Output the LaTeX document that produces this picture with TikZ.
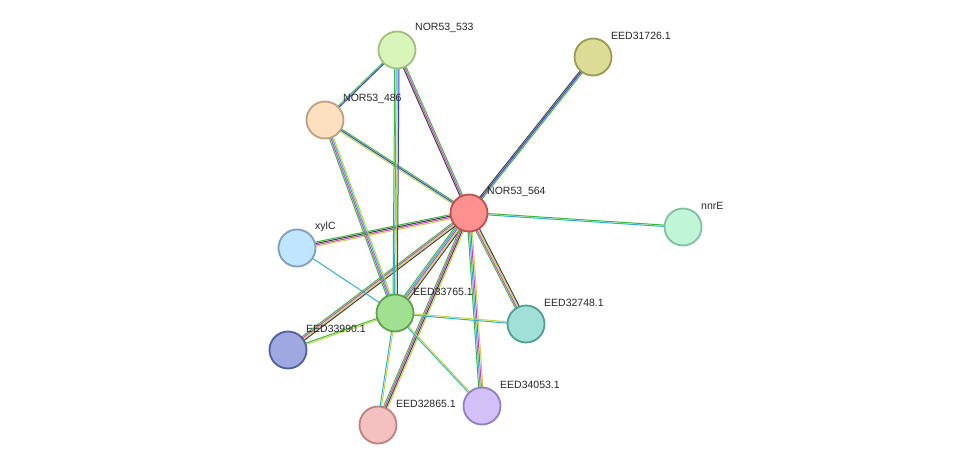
\documentclass[tikz,border=0pt]{standalone}
\usepackage{fontspec}
\setmainfont{Liberation Sans}
\usetikzlibrary{calc}
\pgfdeclarelayer{bg}\pgfsetlayers{bg,main}
\definecolor{eg}{HTML}{3CB83C}\definecolor{eb}{HTML}{3A3AE0}\definecolor{em}{HTML}{D040D0}
\definecolor{ec}{HTML}{30B0D0}\definecolor{ey}{HTML}{C0D840}\definecolor{ek}{HTML}{404040}
\tikzset{prot/.style={circle,draw,line width=1.8pt,minimum size=37pt,inner sep=0pt},
 lbl/.style={anchor=west,font=\fontsize{10.5}{12}\selectfont,text=black!85,inner sep=1pt}}
\newcommand{\pedge}[3]{%
 \foreach \c [count=\i] in {#3}{\xdef\nn{\i}}%
 \foreach \c [count=\i] in {#3}{%
  \pgfmathsetmacro{\o}{(\i-(\nn+1)/2)*1.4}%
  \draw[draw=\c,line width=1pt] ($(#1)!\o pt!90:(#2)$) -- ($(#2)!\o pt!-90:(#1)$);}}
\begin{document}
\begin{tikzpicture}[x=1pt,y=-1pt]
\useasboundingbox (0,0) rectangle (975,471);
\node[prot,fill={rgb,255:red,217;green,245;blue,185},draw={rgb,255:red,160;green,192;blue,128}] (a533) at (397,50) {};
\node[prot,fill={rgb,255:red,220;green,220;blue,150},draw={rgb,255:red,154;green,154;blue,80}] (a31726) at (593,57) {};
\node[prot,fill={rgb,255:red,253;green,224;blue,192},draw={rgb,255:red,192;green,160;blue,128}] (a486) at (325,120) {};
\node[prot,fill={rgb,255:red,255;green,144;blue,144},draw={rgb,255:red,192;green,80;blue,80}] (a564) at (469,213) {};
\node[prot,fill={rgb,255:red,192;green,245;blue,216},draw={rgb,255:red,128;green,192;blue,160}] (nnrE) at (683,227) {};
\node[prot,fill={rgb,255:red,192;green,230;blue,255},draw={rgb,255:red,128;green,160;blue,192}] (xylC) at (297,248) {};
\node[prot,fill={rgb,255:red,160;green,224;blue,144},draw={rgb,255:red,96;green,160;blue,80}] (a33765) at (395,313) {};
\node[prot,fill={rgb,255:red,160;green,224;blue,216},draw={rgb,255:red,80;green,160;blue,144}] (a32748) at (526,324) {};
\node[prot,fill={rgb,255:red,159;green,168;blue,224},draw={rgb,255:red,80;green,96;blue,160}] (a33990) at (288,350) {};
\node[prot,fill={rgb,255:red,212;green,192;blue,248},draw={rgb,255:red,144;green,128;blue,192}] (a34053) at (482,406) {};
\node[prot,fill={rgb,255:red,245;green,192;blue,192},draw={rgb,255:red,192;green,128;blue,128}] (a32865) at (378,425) {};
\begin{pgfonlayer}{bg}
\fill[white] (0,0) rectangle (975,471);
\pedge{a564}{a533}{eg,em,ek}
\pedge{a564}{a31726}{eg,eb,ek}
\pedge{a564}{a486}{eg,eb,ey}
\pedge{a564}{nnrE}{ec,eg}
\pedge{a564}{xylC}{eg,ek,em,ey}
\pedge{a564}{a33765}{eg,ec,em,ey,ek}
\pedge{a564}{a32748}{eg,em,ey,ek}
\pedge{a564}{a33990}{eg,em,ey,ek}
\pedge{a564}{a34053}{eg,ec,em,ey}
\pedge{a564}{a32865}{eg,em,ek,ey}
\pedge{a533}{a486}{eg,eb}
\pedge{a533}{a33765}{eg,ec,ey,eb}
\pedge{a486}{a33765}{eg,em,ec,ey}
\pedge{xylC}{a33765}{ec}
\pedge{a33765}{a32748}{ec,ey}
\pedge{a33765}{a33990}{eg,ey}
\pedge{a33765}{a34053}{ec,ey}
\pedge{a33765}{a32865}{ec,ey}
\end{pgfonlayer}
\node[lbl] (l533) at (414,28) {NOR53\_533};
\node[lbl] (l31726) at (610,36) {EED31726.1};
\node[lbl] (l486) at (342,99) {NOR53\_486};
\node[lbl] (l564) at (486,192) {NOR53\_564};
\node[lbl] (lnnrE) at (700,206) {nnrE};
\node[lbl] (lxylC) at (314,227) {xylC};
\node[lbl] (l33765) at (412,292) {EED33765.1};
\node[lbl] (l32748) at (543,303) {EED32748.1};
\node[lbl] (l33990) at (305,329) {EED33990.1};
\node[lbl] (l34053) at (499,385) {EED34053.1};
\node[lbl] (l32865) at (395,404) {EED32865.1};
\end{tikzpicture}
\end{document}
